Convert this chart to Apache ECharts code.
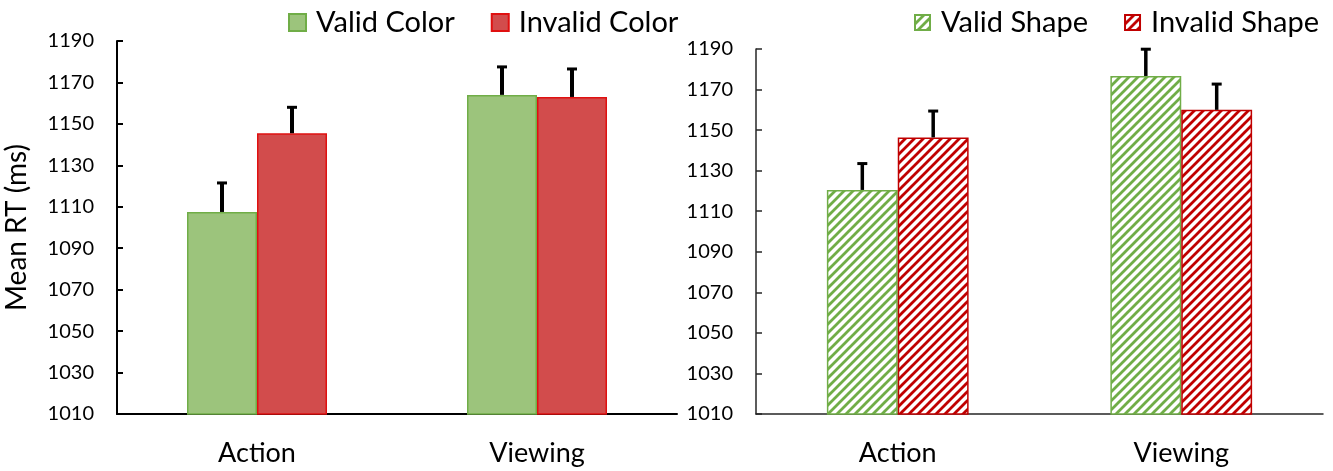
<!DOCTYPE html>
<html>
<head>
<meta charset="utf-8">
<script src="https://cdn.jsdelivr.net/npm/echarts@6/dist/echarts.min.js"></script>
<style>
  html, body { margin: 0; padding: 0; background: #fff; }
  #chart { width: 1333px; height: 471px; }
</style>
</head>
<body>
<div id="chart"></div>
<script>
// Mean reaction times (ms) per condition, with standard error (upper whisker only)
const categories = ['Action', 'Viewing'];
const yTicks = { min: 1010, max: 1190, step: 20 };

const validColor = [1107.5, 1164];
const invalidColor = [1145.5, 1163];
const validColorErr = [14, 13.5];
const invalidColorErr = [12.5, 13.5];

const validShape = [1120.5, 1176.7];
const invalidShape = [1146.4, 1160];
const validShapeErr = [13, 13.2];
const invalidShapeErr = [13, 12.7];

const FONT = 'Lato';

// Diagonal hatch tile used as a fill pattern
function hatch(color) {
  const n = 9;
  const c = document.createElement('canvas');
  c.width = n; c.height = n;
  const g = c.getContext('2d');
  g.fillStyle = '#fff';
  g.fillRect(0, 0, n, n);
  g.strokeStyle = color;
  g.lineWidth = 2.8;
  g.beginPath();
  g.moveTo(-1, n + 1); g.lineTo(n + 1, -1);
  g.moveTo(-1, 1); g.lineTo(1, -1);
  g.moveTo(n - 1, n + 1); g.lineTo(n + 1, n - 1);
  g.stroke();
  return { image: c, repeat: 'repeat' };
}

// Upward error bars centred on each bar of a two-bar group
function errorSeries(values, errs, side, gridIdx, lw) {
  return {
    type: 'custom',
    xAxisIndex: gridIdx, yAxisIndex: gridIdx,
    z: 5,
    silent: true,
    data: values.map((v, i) => [i, v, v + errs[i]]),
    renderItem: function (params, api) {
      const band = api.size([1, 0])[0];
      const off = side * band * 0.125;
      const p0 = api.coord([api.value(0), api.value(1)]);
      const p1 = api.coord([api.value(0), api.value(2)]);
      const x = p0[0] + off;
      return {
        type: 'group',
        children: [
          { type: 'line', shape: { x1: x, y1: p0[1], x2: x, y2: p1[1] },
            style: { stroke: '#000', lineWidth: lw } },
          { type: 'line', shape: { x1: x - 5, y1: p1[1], x2: x + 5, y2: p1[1] },
            style: { stroke: '#000', lineWidth: 3 } }
        ]
      };
    }
  };
}

function valueAxis(gridIdx, axisColor, lw, withName) {
  return {
    type: 'value', gridIndex: gridIdx,
    min: yTicks.min, max: yTicks.max, interval: yTicks.step,
    name: withName ? 'Mean RT (ms)' : '',
    nameLocation: 'middle', nameGap: 86,
    nameTextStyle: { fontFamily: FONT, fontSize: 28, color: '#000' },
    axisLine: { show: true, lineStyle: { color: axisColor, width: lw } },
    axisTick: { show: true, inside: true, length: 6, lineStyle: { color: axisColor, width: lw } },
    axisLabel: { fontFamily: FONT, fontSize: 20, color: '#000', margin: 23,
      formatter: v => String(v) },
    splitLine: { show: false }
  };
}

function categoryAxis(gridIdx, axisColor, lw) {
  return {
    type: 'category', gridIndex: gridIdx, data: categories,
    axisLine: { show: true, lineStyle: { color: axisColor, width: lw } },
    axisTick: { show: false },
    axisLabel: { fontFamily: FONT, fontSize: 27, color: '#000', margin: 26 }
  };
}

const greenSolid = { color: '#9CC47C', borderColor: '#70AD47', borderWidth: 1.5 };
const redSolid = { color: '#D24C4C', borderColor: '#E01010', borderWidth: 1.5 };
const greenHatch = { color: hatch('#70AD47'), borderColor: '#70AD47', borderWidth: 1.5 };
const redHatch = { color: hatch('#C00000'), borderColor: '#C00000', borderWidth: 1.5 };

const barCommon = { type: 'bar', barGap: '0%', barCategoryGap: '50%' };

const option = {
  animation: false,
  backgroundColor: '#fff',
  grid: [
    { left: 117, right: 656, top: 41, bottom: 57 },
    { left: 756, right: 10, top: 49, bottom: 57 }
  ],
  legend: [
    { data: ['Valid Color', 'Invalid Color'], left: 283, top: 3, icon: 'rect',
      itemWidth: 17, itemHeight: 17, itemGap: 36,
      textStyle: { fontFamily: FONT, fontSize: 29, color: '#000', padding: [0, 0, 0, 5] } },
    { data: ['Valid Shape', 'Invalid Shape'], left: 909, top: 3, icon: 'rect',
      itemWidth: 15, itemHeight: 15, itemGap: 36,
      textStyle: { fontFamily: FONT, fontSize: 29, color: '#000', padding: [0, 0, 0, 6] } }
  ],
  xAxis: [categoryAxis(0, '#000', 2), categoryAxis(1, '#262626', 1.5)],
  yAxis: [valueAxis(0, '#000', 2, true), valueAxis(1, '#262626', 1.5, false)],
  series: [
    Object.assign({ name: 'Valid Color', xAxisIndex: 0, yAxisIndex: 0, data: validColor, itemStyle: greenSolid }, barCommon),
    Object.assign({ name: 'Invalid Color', xAxisIndex: 0, yAxisIndex: 0, data: invalidColor, itemStyle: redSolid }, barCommon),
    Object.assign({ name: 'Valid Shape', xAxisIndex: 1, yAxisIndex: 1, data: validShape, itemStyle: greenHatch }, barCommon),
    Object.assign({ name: 'Invalid Shape', xAxisIndex: 1, yAxisIndex: 1, data: invalidShape, itemStyle: redHatch }, barCommon),
    errorSeries(validColor, validColorErr, -1, 0, 4),
    errorSeries(invalidColor, invalidColorErr, 1, 0, 4),
    errorSeries(validShape, validShapeErr, -1, 1, 3.5),
    errorSeries(invalidShape, invalidShapeErr, 1, 1, 3.5)
  ]
};

const chart = echarts.init(document.getElementById('chart'), null, { renderer: 'canvas' });
chart.setOption(option);
</script>
</body>
</html>
